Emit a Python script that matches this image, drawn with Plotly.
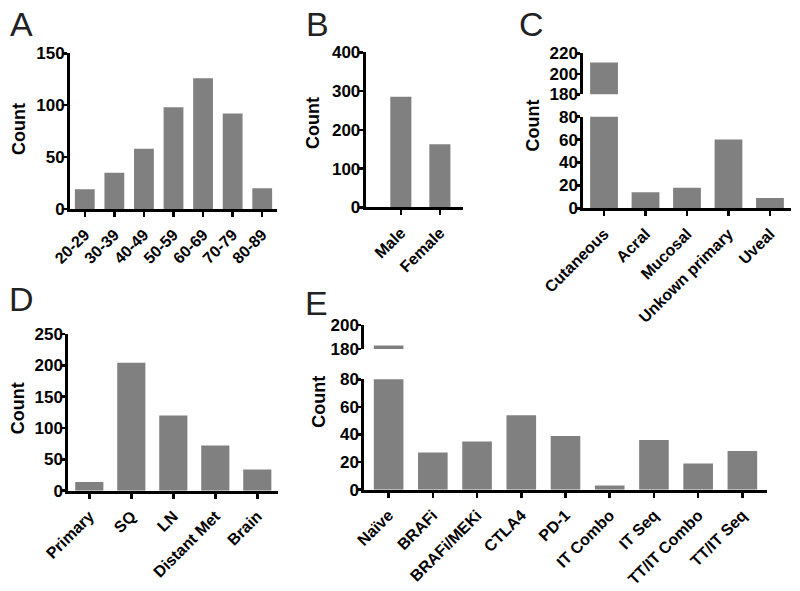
import plotly.graph_objects as go

# ---------------- data ----------------
age_groups = ["20-29", "30-39", "40-49", "50-59", "60-69", "70-79", "80-89"]
age_counts = [19, 35, 58, 98, 126, 92, 20]

sex_groups = ["Male", "Female"]
sex_counts = [285, 163]

subtype_groups = ["Cutaneous", "Acral", "Mucosal", "Unkown primary", "Uveal"]
subtype_counts = [211, 14, 18, 60, 9]

site_groups = ["Primary", "SQ", "LN", "Distant Met", "Brain"]
site_counts = [14, 204, 120, 72, 34]

tx_groups = ["Naïve", "BRAFi", "BRAFi/MEKi", "CTLA4", "PD-1", "IT Combo",
             "IT Seq", "TT/IT Combo", "TT/IT Seq"]
tx_counts = [183, 27, 35, 54, 39, 3, 36, 19, 28]

W, H = 800, 591
BAR = "#808080"
FONT = "Liberation Sans, Arial, Helvetica, sans-serif"


def px_x(p):
    return p / W


def px_y(p):
    return (H - p) / H


xtickfont = dict(family=FONT, size=16, color="black", weight="bold")
ytickfont = dict(family=FONT, size=17, color="black", weight="bold")

fig = go.Figure()


def add_bars(cats, vals, xa, ya, width):
    fig.add_trace(go.Bar(x=cats, y=vals, xaxis=xa, yaxis=ya, width=width,
                         marker=dict(color=BAR, line=dict(width=0)),
                         showlegend=False, hoverinfo="skip"))


add_bars(age_groups, age_counts, "x", "y", 0.67)
add_bars(sex_groups, sex_counts, "x2", "y2", 0.54)
add_bars(subtype_groups, subtype_counts, "x3", "y3", 0.67)
add_bars(subtype_groups, subtype_counts, "x3", "y4", 0.67)
add_bars(site_groups, site_counts, "x4", "y5", 0.67)
add_bars(tx_groups, tx_counts, "x5", "y6", 0.67)
add_bars(tx_groups, tx_counts, "x5", "y7", 0.67)


def xax(dom, rng, anchor):
    return dict(domain=dom, range=rng, anchor=anchor, type="category",
                automargin=False,
                showline=True, linecolor="black", linewidth=3,
                ticks="outside", ticklen=5, tickwidth=2.5,
                tickcolor="black", tickangle=-45, tickfont=xtickfont,
                ticklabelstandoff=2,
                showgrid=False, zeroline=False, fixedrange=True)


def yax(dom, rng, dtick, anchor):
    return dict(domain=dom, range=rng, anchor=anchor, dtick=dtick,
                tick0=rng[0], automargin=False,
                showline=True, linecolor="black", linewidth=3,
                ticks="outside", ticklen=4, tickwidth=2.5, tickcolor="black",
                tickfont=ytickfont, ticklabelstandoff=-5,
                showgrid=False, zeroline=False, fixedrange=True)


layout = dict(
    template="none",
    width=W, height=H, margin=dict(l=0, r=0, t=0, b=0, pad=0),
    paper_bgcolor="white", plot_bgcolor="rgba(0,0,0,0)", showlegend=False,
    # A
    xaxis=xax([px_x(70), px_x(277)], [-0.5, 6.5], "y"),
    yaxis=yax([px_y(209), px_y(53.3)], [0, 150], 50, "x"),
    # B
    xaxis2=xax([px_x(365.7), px_x(463.3)], [-0.9, 1.6], "y2"),
    yaxis2=yax([px_y(207.3), px_y(52.3)], [0, 400], 100, "x2"),
    # C (broken axis)
    xaxis3=xax([px_x(583.3), px_x(790.7)], [-0.5, 4.5], "y3"),
    yaxis3=yax([px_y(208.3), px_y(116.7)], [0, 80], 20, "x3"),
    yaxis4=yax([px_y(94.3), px_y(53.3)], [180, 220], 20, "x3"),
    # D
    xaxis4=xax([px_x(68.3), px_x(278.3)], [-0.5, 4.5], "y5"),
    yaxis5=yax([px_y(490.7), px_y(334)], [0, 250], 50, "x4"),
    # E (broken axis)
    xaxis5=xax([px_x(364.3), px_x(766.7)], [-0.55, 8.55], "y6"),
    yaxis6=yax([px_y(489.7), px_y(379.3)], [0, 80], 20, "x5"),
    yaxis7=yax([px_y(349), px_y(325)], [180, 200], 20, "x5"),
)
fig.update_layout(**layout)

# y-axis titles
for (cx, cy) in [(19, 129), (312.5, 123.5), (532.5, 126), (18.3, 408), (319, 401.7)]:
    fig.add_annotation(text="Count", x=px_x(cx), y=px_y(cy), xref="paper",
                       yref="paper", showarrow=False, textangle=-90,
                       xanchor="center", yanchor="middle",
                       font=dict(family=FONT, size=18, color="black",
                                 weight="bold"))

# panel letters
for (lab, cx, cy) in [("A", 21.5, 24.5), ("B", 317.5, 24), ("C", 531.7, 24),
                      ("D", 21.7, 299), ("E", 316.7, 302.5)]:
    fig.add_annotation(text=lab, x=px_x(cx), y=px_y(cy), xref="paper",
                       yref="paper", showarrow=False, xanchor="center",
                       yanchor="middle",
                       font=dict(family=FONT, size=34, color="#222222"))

fig.write_html("out.html",
               config={"displayModeBar": False, "staticPlot": True},
               post_script="document.body.style.margin='0';"
                           "document.body.style.overflow='hidden';")
